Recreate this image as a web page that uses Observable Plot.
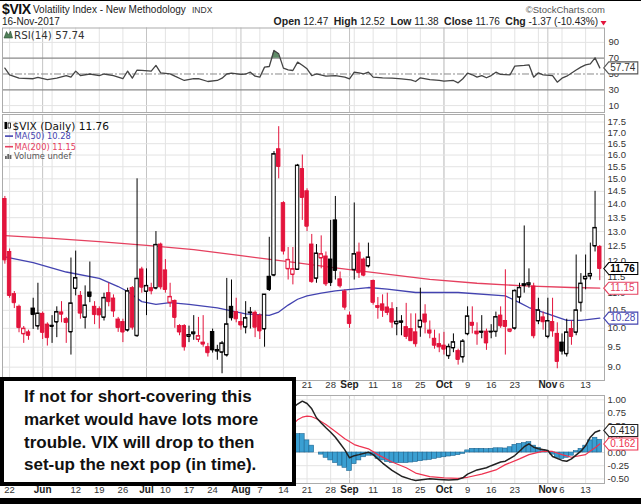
<!DOCTYPE html>
<html><head><meta charset="utf-8">
<script src="https://cdn.jsdelivr.net/npm/d3@7"></script>
<script src="https://cdn.jsdelivr.net/npm/@observablehq/plot@0.6"></script>
<style>
body{margin:0;background:#fff;}
#c{position:relative;width:641px;height:504px;overflow:hidden;background:#fff;}
</style></head><body><div id="c"></div>
<script>
// ---------- DATA ----------
const dates = ["05-19","05-22","05-23","05-24","05-25","05-26","05-30","05-31",
"06-01","06-02","06-05","06-06","06-07","06-08","06-09","06-12","06-13","06-14","06-15","06-16","06-19","06-20","06-21","06-22","06-23","06-26","06-27","06-28","06-29","06-30",
"07-03","07-05","07-06","07-07","07-10","07-11","07-12","07-13","07-14","07-17","07-18","07-19","07-20","07-21","07-24","07-25","07-26","07-27","07-28","07-31",
"08-01","08-02","08-03","08-04","08-07","08-08","08-09","08-10","08-11","08-14","08-15","08-16","08-17","08-18","08-21","08-22","08-23","08-24","08-25","08-28","08-29","08-30","08-31",
"09-01","09-05","09-06","09-07","09-08","09-11","09-12","09-13","09-14","09-15","09-18","09-19","09-20","09-21","09-22","09-25","09-26","09-27","09-28","09-29",
"10-02","10-03","10-04","10-05","10-06","10-09","10-10","10-11","10-12","10-13","10-16","10-17","10-18","10-19","10-20","10-23","10-24","10-25","10-26","10-27","10-30","10-31",
"11-01","11-02","11-03","11-06","11-07","11-08","11-09","11-10","11-13","11-14","11-15","11-16"];

const open = [14.20,12.30,10.97,10.60,9.85,9.89,10.55,10.06,10.40,10.10, 10.05,10.17,10.44,10.25,9.90, 11.14,10.92,10.30,11.02,10.60, 10.53,10.30,11.00,10.84,10.24, 10.17,9.95,11.15,9.80,11.73, 11.05,11.15,11.15,12.55, 11.70,10.72,10.77,10.06,10.06, 9.78,9.85,9.70,9.62,9.50, 9.90,9.40,9.37,9.30,10.60, 10.45,10.17,10.03,10.43,10.43, 10.35,9.98,11.50,11.55,16.25, 14.04,11.75,11.57,11.73,15.40, 14.50,12.55,11.45,12.10,12.15, 12.05,13.40,11.42,11.05,10.35, 11.72,12.28,12.05,11.84, 11.37,10.62,10.67,10.58,10.53, 10.12,10.16,10.03,9.98,9.89, 10.03,10.38,9.94,9.72,9.58, 9.54,9.28,9.48,9.40,9.25, 9.85,10.15,9.91,9.89,9.91, 9.90,9.91,10.35,10.20,9.92, 10.00,10.88,11.27,11.25,11.20, 10.20,10.30,9.78,10.17,9.85, 9.62,9.33,9.98,9.89,10.72, 11.43,11.52,12.50,12.47];
const high = [14.30,12.40,11.05,10.65,10.05,9.95,10.85,11.30,10.45,10.15, 10.35,10.60,10.75,10.30,12.10, 12.33,11.05,11.22,11.97,10.75, 10.60,11.00,11.30,10.95,10.30, 10.25,11.15,11.20,15.00,11.80, 11.75,11.30,13.00,12.60, 12.05,11.30,10.80,10.10,10.10, 10.06,10.35,10.30,10.35,9.60, 9.98,9.55,9.65,11.45,11.40, 10.85,10.40,10.75,10.58,10.48, 10.40,10.95,12.80,16.15,17.28, 14.10,12.45,12.45,15.60,16.00, 14.60,12.90,12.55,12.85,12.30, 13.40,14.30,11.65,11.10,10.45, 14.05,12.60,12.10,12.60, 11.40,10.87,10.95,11.00,10.72, 10.58,10.35,10.70,10.40,10.40, 11.15,10.66,10.20,9.95,9.85, 9.89,9.58,9.85,9.45,9.70, 10.60,10.60,10.15,10.35,9.98, 10.10,10.45,10.60,11.72,9.98, 11.10,11.30,13.20,11.75,11.30, 10.85,10.45,10.85,10.85,10.15, 9.85,10.25,10.20,12.20,11.60, 12.20,12.60,14.50,12.52];
const low = [11.90,10.85,10.55,9.88,9.60,9.68,9.97,9.95,9.70,9.53, 9.60,9.75,10.15,9.60,9.30, 10.92,10.25,9.98,10.72,10.10, 9.98,10.20,10.60,10.30,9.89, 9.62,9.90,9.95,9.76,11.00, 10.35,10.95,11.10,11.10, 11.00,10.58,10.00,9.80,9.40, 9.62,9.68,9.62,9.50,9.25, 9.35,9.17,8.84,9.25,10.20, 10.15,9.95,9.85,9.98,9.75, 9.70,9.50,11.05,11.50,15.00, 12.20,11.40,11.25,11.70,13.40, 13.00,11.30,11.30,11.75,11.20, 11.20,11.40,11.15,10.50,10.00, 11.40,11.45,11.50,11.78, 10.65,10.25,10.30,10.35,10.00, 9.80,9.80,9.70,9.65,9.50, 9.76,9.85,9.72,9.45,9.36, 9.30,9.19,9.36,9.05,9.10, 9.80,9.85,9.55,9.72,9.42, 9.72,9.76,10.00,9.30,9.88, 9.95,10.70,11.00,11.15,9.72, 10.10,9.95,9.72,9.76,8.96, 9.30,9.25,9.55,9.80,10.45, 11.10,11.40,12.30,11.38];
const close = [12.04,10.93,10.72,10.02,9.99,9.81,10.38,10.41,9.89,9.75, 10.07,10.45,10.39,10.16,10.70, 11.46,10.42,10.64,10.90,10.38, 10.37,10.86,10.75,10.48,10.02, 9.90,11.06,10.03,11.44,11.18, 11.22,11.07,12.54,11.19, 11.11,10.89,10.30,9.90,9.51, 9.82,9.89,9.79,9.58,9.36, 9.43,9.43,9.60,10.11,10.29, 10.26,10.09,10.28,10.44,10.03, 9.93,10.96,11.11,16.04,15.51, 12.33,12.04,11.74,15.55,14.26, 13.19,11.35,12.25,12.23,11.28, 11.32,11.70,11.22,10.59,10.13, 12.23,11.63,11.55,12.12, 10.73,10.58,10.50,10.44,10.17, 10.18,10.19,9.78,9.67,9.59, 10.21,10.17,9.87,9.55,9.51, 9.45,9.51,9.63,9.19,9.65, 10.33,10.08,9.85,9.91,9.61, 9.91,10.31,10.07,10.05,9.97, 11.07,11.16,11.23,11.30,9.80, 10.50,10.18,10.20,9.93,9.14, 9.40,9.89,9.78,10.50,11.29, 11.50,11.59,13.13,11.76];
const priorClose = 14.66;

const ma50Dates = ["05-19","05-30","06-08","06-19","06-23","06-27","06-30","07-06","07-11","07-17","07-25","08-02","08-09","08-11","08-15","08-17","08-21","08-24","08-29","09-08","09-14","09-22","10-05","10-19","10-24","10-26","11-01","11-07","11-10","11-16"];
const ma50Vals  = [12.14,11.95,11.65,11.45,11.20,11.05,10.75,10.67,10.72,10.67,10.57,10.40,10.36,10.45,10.65,10.82,10.92,11.00,11.07,11.17,11.12,11.02,11.02,10.92,10.72,10.58,10.40,10.22,10.22,10.28];
const ma200Dates = ["05-19","06-05","06-19","07-03","07-18","08-01","08-15","08-29","09-13","09-27","10-11","10-25","11-08","11-16"];
const ma200Vals  = [12.86,12.76,12.65,12.52,12.38,12.18,11.98,11.78,11.60,11.42,11.30,11.22,11.17,11.15];

const rsiDates = ["05-19","05-22","05-24","05-30","05-31","06-02","06-06","06-08","06-09","06-12","06-13","06-15","06-19","06-20","06-22","06-26","06-27","06-28","06-29","06-30","07-05","07-06","07-07","07-11","07-12","07-14","07-18","07-19","07-21","07-25","07-26","07-27","07-28","08-01","08-02","08-03","08-04","08-07","08-08","08-09","08-10","08-11","08-14","08-15","08-16","08-17","08-18","08-21","08-22","08-23","08-25","08-29","08-31","09-01","09-05","09-06","09-07","09-08","09-11","09-13","09-15","09-19","09-21","09-22","09-25","09-27","09-29","10-02","10-04","10-05","10-06","10-09","10-10","10-11","10-12","10-13","10-16","10-17","10-18","10-20","10-23","10-25","10-26","10-27","10-30","10-31","11-02","11-03","11-06","11-07","11-09","11-10","11-13","11-14","11-15","11-16"];
const rsiVals = [57.4,49,44.7,44,45.6,43,44.7,48,46,53.6,48,50,48,50,48,44,53.6,44.7,55,54.5,53.6,60.8,51.5,50.2,47.2,41.8,44,44,40.5,41.8,44.7,50,51,49.4,50,52.3,47.2,46,58.7,59.5,79.8,75.5,57.4,55.3,54.4,65,61,56.5,48,50,47.2,48,46,43.9,52.3,51.5,50.2,52.3,46,45.2,44.7,43.9,42.6,40.5,45.2,43,41.8,40.9,41.8,38.8,44,51,49,46,48,45.2,48,52.3,49.4,49,59.9,60.8,61.6,46,51.5,49,48,39.7,44.7,47.2,55,58.7,61.6,62.9,70.4,57.74];

const macdDates = ["08-15","08-17","08-18","08-21","08-22","08-23","08-24","08-25","08-28","08-29","08-30","08-31","09-01","09-05","09-06","09-08","09-11","09-13","09-15","09-19","09-21","09-22","09-27","09-29","10-03","10-05","10-06","10-09","10-11","10-13","10-16","10-18","10-19","10-23","10-24","10-25","10-26","10-27","10-30","11-01","11-02","11-06","11-07","11-08","11-10","11-13","11-14","11-15","11-16"];
const macdVals = [0.77,0.92,0.975,0.93,0.83,0.66,0.56,0.47,0.386,0.29,0.17,0.05,-0.10,-0.06,-0.04,0.006,-0.04,-0.20,-0.34,-0.45,-0.51,-0.53,-0.50,-0.51,-0.52,-0.51,-0.48,-0.41,-0.33,-0.29,-0.25,-0.18,-0.165,-0.057,0.025,0.11,0.165,0.10,0.07,0.038,-0.076,-0.15,-0.165,-0.12,0.025,0.13,0.29,0.386,0.419];
const signalDates = ["08-15","08-17","08-18","08-21","08-22","08-23","08-25","08-29","08-31","09-05","09-06","09-08","09-12","09-15","09-20","09-22","09-27","10-02","10-05","10-09","10-12","10-17","10-19","10-24","10-26","10-31","11-02","11-06","11-08","11-13","11-14","11-15","11-16"];
const signalVals = [0.45,0.62,0.67,0.69,0.68,0.64,0.53,0.40,0.26,0.15,0.12,0.07,-0.04,-0.18,-0.29,-0.39,-0.456,-0.48,-0.49,-0.47,-0.41,-0.33,-0.23,-0.12,-0.04,0.025,0.02,-0.04,-0.09,-0.04,0.03,0.09,0.162];
const histStart = "08-15";
const histVals = [0.33,0.35,0.35,0.35,0.23,0.13,0.0,-0.04,-0.10,-0.15,-0.20,-0.25,-0.29,-0.35,-0.22,-0.15,-0.09,-0.06,-0.06,-0.12,-0.15,-0.18,-0.20,-0.20,-0.20,-0.20,-0.19,-0.18,-0.165,-0.15,-0.14,-0.12,-0.10,-0.09,-0.076,-0.063,-0.05,-0.025,0.04,0.07,0.07,0.07,0.063,0.07,0.08,0.08,0.076,0.10,0.145,0.165,0.18,0.196,0.13,0.09,0.05,0.01,-0.04,-0.10,-0.12,-0.10,-0.06,0.025,0.07,0.13,0.23,0.28,0.24];

const gridWeekDates = ["05-22","05-30","06-05","06-12","06-19","06-26","07-03","07-10","07-17","07-24","07-31","08-07","08-14","08-21","08-28","09-05","09-11","09-18","09-25","10-02","10-09","10-16","10-23","10-30","11-06","11-13"];
const weekLabelDates = ["05-22","06-12","06-19","06-26","07-10","07-17","07-24","08-07","08-14","08-21","08-28","09-11","09-18","09-25","10-09","10-16","10-23","11-06","11-13"];
const weekLabels = ["22","12","19","26","10","17","24","7","14","21","28","11","18","25","9","16","23","6","13"];
const monthDates = ["06-01","07-03","08-01","09-01","10-02","11-01"];
const monthLabels = ["Jun","Jul","Aug","Sep","Oct","Nov"];

const priceTicks = [9.0,9.5,10.0,10.5,11.0,11.5,12.0,12.5,13.0,13.5,14.0,14.5,15.0,15.5,16.0,16.5,17.0,17.5];
const rsiTicks = [90,70,50,30,10];
const macdTicks = [1.00,0.75,0.50,0.25,0.00,-0.25,-0.50];

// ---------- BUILD ----------
const RED = "#e3143c", MA50C = "#4343b0", MA200C = "#e5405f";
const idx = d => dates.indexOf(d);
const N = dates.length;
const candles = dates.map((d, i) => {
  const pc = i ? close[i - 1] : priorClose;
  const col = close[i] < pc ? RED : "#000";
  return {i, o: open[i], h: high[i], l: low[i], c: close[i], col, fillc: close[i] > open[i] ? "#fff" : col};
});
const ma50 = ma50Dates.map((d, k) => ({i: idx(d), v: ma50Vals[k]}));
const ma200 = ma200Dates.map((d, k) => ({i: idx(d), v: ma200Vals[k]}));
const rsiPts = rsiDates.map((d, k) => ({i: idx(d), v: rsiVals[k]}));
const macdPts = macdDates.map((d, k) => ({i: idx(d), v: macdVals[k]}));
const sigPts = signalDates.map((d, k) => ({i: idx(d), v: signalVals[k]}));
const h0 = idx(histStart);
const hist = histVals.map((v, k) => ({i: h0 + k, v}));

// green fill above 70
const fillPts = [];
rsiPts.forEach((p, k) => {
  if (k > 0) {
    const q = rsiPts[k - 1];
    if ((q.v - 70) * (p.v - 70) < 0) {
      const t = (70 - q.v) / (p.v - q.v);
      fillPts.push({i: q.i + t * (p.i - q.i), v: 70});
    }
  }
  fillPts.push({i: p.i, v: Math.max(p.v, 70)});
});

const STYLE = "background:transparent;overflow:visible;font-family:'Liberation Sans',Arial,sans-serif;color:#333;position:absolute;left:0;";
const X = {domain: [-0.5, 127], axis: null};
const TAGX = 126.85;
const tagShape = {draw(ctx) { ctx.moveTo(0, 0); ctx.lineTo(5, -6); ctx.lineTo(34, -6); ctx.lineTo(34, 6); ctx.lineTo(5, 6); ctx.closePath(); }};
function tag(v, txt, stroke, fill, bold) {
  return [
    Plot.dot([v], {x: TAGX, y: d => d, symbol: tagShape, fill: "#fff", stroke, strokeWidth: 1.1}),
    Plot.text([v], {x: TAGX, y: d => d, text: () => txt, dx: 6.5, textAnchor: "start", fill, fontSize: 10, fontWeight: bold ? "bold" : "normal"})
  ];
}
function grid() {
  return [
    Plot.ruleX(gridWeekDates, {x: idx, stroke: "#e3e3e3"}),
    Plot.ruleX(monthDates, {x: idx, stroke: "#c4c4c4"})
  ];
}
function xLabels(dy) {
  return [
    Plot.text(weekLabelDates, {x: idx, text: (d, k) => weekLabels[k], frameAnchor: "bottom", dy, fontSize: 9.5, fill: "#333"}),
    Plot.text(monthDates, {x: idx, text: (d, k) => monthLabels[k], frameAnchor: "bottom", dy, fontSize: 10, fontWeight: "bold", fill: "#222"})
  ];
}
const c = document.getElementById("c");

// RSI panel
const rsiPlot = Plot.plot({
  width: 641, height: 88, marginLeft: 2, marginRight: 37, marginTop: 1.5, marginBottom: 2,
  x: X, y: {domain: [1.27, 108.2], axis: null}, style: STYLE + "top:26px;",
  marks: [
    ...grid(),
    Plot.ruleY([90, 10], {stroke: "#e3e3e3"}),
    Plot.ruleY([70, 30], {stroke: "#8a8a8a", strokeWidth: 1.3}),
    Plot.ruleY([50], {stroke: "#8a8a8a", strokeDasharray: "7,2,2,2"}),
    Plot.areaY(fillPts, {x: "i", y1: 70, y2: "v", fill: "#4f7f58", fillOpacity: 0.9}),
    Plot.line(rsiPts, {x: "i", y: "v", stroke: "#444", strokeWidth: 1.3}),
    Plot.frame({stroke: "#ababab"}),
    Plot.text(rsiTicks, {y: d => d, text: d => String(d), frameAnchor: "right", dx: 4, textAnchor: "start", fontSize: 9.5, fill: "#333"}),
    ...tag(rsiVals[rsiVals.length - 1], rsiVals[rsiVals.length - 1].toFixed(2), "#555", "#333", false)
  ]
});
c.append(rsiPlot);

// Price panel
const pricePlot = Plot.plot({
  width: 641, height: 284, marginLeft: 2, marginRight: 37, marginTop: 2, marginBottom: 16,
  x: X, y: {type: "log", domain: [8.68, 17.86], axis: null}, color: {type: "identity"},
  style: STYLE + "top:112px;",
  marks: [
    ...grid(),
    Plot.ruleY(priceTicks, {stroke: "#e3e3e3"}),
    Plot.frame({stroke: "#ababab"}),
    Plot.line(ma200, {x: "i", y: "v", stroke: MA200C, strokeWidth: 1.3}),
    Plot.line(ma50, {x: "i", y: "v", stroke: MA50C, strokeWidth: 1.3}),
    Plot.ruleX(candles, {x: "i", y1: "l", y2: "h", stroke: "col", strokeWidth: 1}),
    Plot.rect(candles, {x1: d => d.i - 0.36, x2: d => d.i + 0.36, y1: d => Math.min(d.o, d.c), y2: d => Math.max(d.o, d.c), fill: "fillc", stroke: "col", strokeWidth: 1}),
    Plot.ruleY(candles, {y: "o", x1: d => d.i - 0.36, x2: d => d.i + 0.36, stroke: "col"}),
    Plot.ruleY(candles, {y: "c", x1: d => d.i - 0.36, x2: d => d.i + 0.36, stroke: "col"}),
    Plot.text(priceTicks, {y: d => d, text: d => d.toFixed(1), frameAnchor: "right", dx: 3, textAnchor: "start", fontSize: 9.5, fill: "#333"}),
    ...xLabels(7.5),
    ...tag(ma50Vals[ma50Vals.length - 1], ma50Vals[ma50Vals.length - 1].toFixed(2), MA50C, MA50C, false),
    ...tag(ma200Vals[ma200Vals.length - 1], ma200Vals[ma200Vals.length - 1].toFixed(2), MA200C, MA200C, false),
    ...tag(close[N - 1], close[N - 1].toFixed(2), "#000", "#000", true)
  ]
});
c.append(pricePlot);

// MACD panel
const macdPlot = Plot.plot({
  width: 641, height: 105, marginLeft: 2, marginRight: 37, marginTop: 2, marginBottom: 15,
  x: X, y: {domain: [-0.588, 1.082], axis: null}, style: STYLE + "top:393px;",
  marks: [
    ...grid(),
    Plot.ruleY(macdTicks, {stroke: "#e3e3e3"}),
    Plot.rect(hist, {x1: d => d.i - 0.5, x2: d => d.i + 0.5, y1: 0, y2: "v", fill: "#3a9fd2", stroke: "#1f6590", strokeWidth: 0.6}),
    Plot.line(sigPts, {x: "i", y: "v", stroke: "#ee3350", strokeWidth: 1.2}),
    Plot.line(macdPts, {x: "i", y: "v", stroke: "#222", strokeWidth: 1.5}),
    Plot.frame({stroke: "#ababab"}),
    Plot.text(macdTicks, {y: d => d, text: d => d.toFixed(2), frameAnchor: "right", dx: 3, textAnchor: "start", fontSize: 9.5, fill: "#333"}),
    ...xLabels(9),
    ...tag(macdVals[macdVals.length - 1], macdVals[macdVals.length - 1].toFixed(3), "#222", "#222", false),
    ...tag(signalVals[signalVals.length - 1], signalVals[signalVals.length - 1].toFixed(3), "#ee3350", "#ee3350", false)
  ]
});
c.append(macdPlot);

// ---------- OVERLAY TEXT ----------
const ov = d3.create("svg").attr("width", 641).attr("height", 504)
  .style("position", "absolute").style("left", 0).style("top", 0)
  .style("font-family", "'Liberation Sans',Arial,sans-serif");
ov.append("rect").attr("x", 0).attr("y", 0).attr("width", 641).attr("height", 1).attr("fill", "#000");
ov.append("text").attr("x", 2).attr("y", 13.5).attr("font-size", 14).attr("font-weight", "bold").attr("letter-spacing", -0.4).attr("fill", "#111").text("$VIX");
ov.append("text").attr("x", 33).attr("y", 13).attr("font-size", 10).attr("fill", "#222").text("Volatility Index - New Methodology");
ov.append("text").attr("x", 192).attr("y", 13).attr("font-size", 8.5).attr("fill", "#333").text("INDX");
ov.append("text").attr("x", 605).attr("y", 13).attr("font-size", 9.5).attr("text-anchor", "end").attr("fill", "#555").text("\u00a9StockCharts.com");
ov.append("text").attr("x", 2).attr("y", 25).attr("font-size", 10).attr("fill", "#222").text("16-Nov-2017");
const last = N - 1;
const chg = close[last] - close[last - 1];
const pct = chg / close[last - 1] * 100;
const q = ov.append("text").attr("x", 598).attr("y", 25).attr("text-anchor", "end").attr("fill", "#222").style("white-space", "pre");
const parts = [["Open", true], [" " + open[last].toFixed(2) + "  ", false], ["High", true], [" " + high[last].toFixed(2) + "  ", false],
  ["Low", true], [" " + low[last].toFixed(2) + "  ", false], ["Close", true], [" " + close[last].toFixed(2) + "  ", false],
  ["Chg", true], [" " + chg.toFixed(2) + " (" + pct.toFixed(2) + "%)", false]];
parts.forEach(([t, b]) => q.append("tspan").attr("font-size", b ? 10.5 : 10).attr("font-weight", b ? "bold" : "normal").text(t));
ov.append("path").attr("d", "M600.5,21 L606.5,21 L603.5,25.5 Z").attr("fill", RED);

// RSI legend
ov.append("path").attr("d", "M4,38 L6.5,31.5 L8.5,35 L10.5,31 L12.5,38 Z").attr("fill", "#4f7f58").attr("stroke", "#2d4d33").attr("stroke-width", 0.6);
ov.append("text").attr("x", 14).attr("y", 38.5).attr("font-family", "'DejaVu Sans',sans-serif").attr("font-size", 10.3).attr("fill", "#333")
  .text("RSI(14) " + rsiVals[rsiVals.length - 1].toFixed(2));

// Price legend
ov.append("rect").attr("x", 4.5).attr("y", 122).attr("width", 2.5).attr("height", 7).attr("fill", "#000");
ov.append("rect").attr("x", 8).attr("y", 123).attr("width", 2.5).attr("height", 5).attr("fill", "#fff").attr("stroke", "#000").attr("stroke-width", 0.8);
ov.append("text").attr("x", 12.5).attr("y", 129.8).attr("font-family", "'DejaVu Sans',sans-serif").attr("font-size", 10.6).attr("fill", "#111")
  .text("$VIX (Daily) " + close[last].toFixed(2));
ov.append("rect").attr("x", 5).attr("y", 135.3).attr("width", 8).attr("height", 1.6).attr("fill", MA50C);
ov.append("text").attr("x", 14.5).attr("y", 139).attr("font-family", "'DejaVu Sans',sans-serif").attr("font-size", 8.3).attr("fill", MA50C)
  .text("MA(50) " + ma50Vals[ma50Vals.length - 1].toFixed(2));
ov.append("rect").attr("x", 5).attr("y", 145.9).attr("width", 8).attr("height", 1.6).attr("fill", MA200C);
ov.append("text").attr("x", 14.5).attr("y", 149.6).attr("font-family", "'DejaVu Sans',sans-serif").attr("font-size", 8.3).attr("fill", MA200C)
  .text("MA(200) " + ma200Vals[ma200Vals.length - 1].toFixed(2));
[[5, 3], [7.3, 5], [9.6, 4]].forEach(([x, h]) => ov.append("rect").attr("x", x).attr("y", 159 - h).attr("width", 1.8).attr("height", h).attr("fill", "#666"));
ov.append("text").attr("x", 14).attr("y", 159.2).attr("font-family", "'DejaVu Sans',sans-serif").attr("font-size", 8.3).attr("fill", "#555").text("Volume undef");

// Annotation box
ov.append("rect").attr("x", 2).attr("y", 379).attr("width", 292).attr("height", 105)
  .attr("fill", "#fff").attr("stroke", "#000").attr("stroke-width", 4);
const boxLines = ["If not for short-covering this", "market would have lots more", "trouble. VIX will drop to then", "set-up the next pop (in time)."];
boxLines.forEach((t, k) => ov.append("text").attr("x", 24).attr("y", 402 + k * 22.8).attr("font-size", 17).attr("font-weight", "bold").attr("fill", "#111").text(t));

// bottom edge band
ov.append("rect").attr("x", 0).attr("y", 498).attr("width", 641).attr("height", 6).attr("fill", "#000");
c.append(ov.node());
</script>
</body></html>
